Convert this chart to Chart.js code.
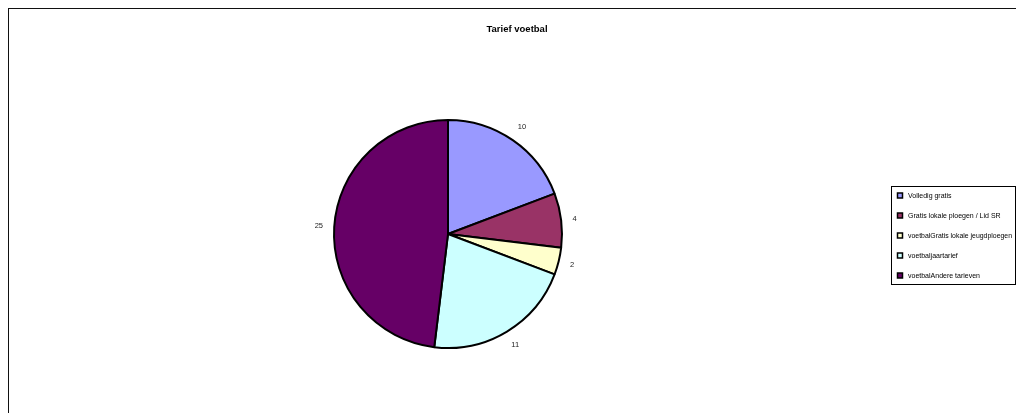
<!DOCTYPE html>
<html>
<head>
<meta charset="utf-8">
<title>Tarief voetbal</title>
<script src="https://cdn.jsdelivr.net/npm/chart.js@4/dist/chart.umd.min.js"></script>
<style>
  body { margin: 0; background: #fff; }
  canvas { display: block; }
</style>
</head>
<body>
<canvas id="tarief-chart" width="1016" height="413"></canvas>
<script>
//---------------------DATA--------------------------------------//
const categories = [
  'Volledig gratis',
  'Gratis lokale ploegen / Lid SR',
  'voetbalGratis lokale jeugdploegen',
  'voetbaljaartarief',
  'voetbalAndere tarieven'
];
const values = [10, 4, 2, 11, 25];
const sliceColors = ['#9999FF', '#993366', '#FFFFCC', '#CCFFFF', '#660066'];
const chartTitle = 'Tarief voetbal';

const fontFamily = '"Liberation Sans", Arial, sans-serif';

//---------------------PLUGINS--------------------------------------//
// white page + the outer chart frame (runs off the right/bottom edge)
const framePlugin = {
  id: 'frame',
  beforeDraw(chart) {
    const ctx = chart.ctx;
    ctx.save();
    ctx.fillStyle = '#fff';
    ctx.fillRect(0, 0, chart.width, chart.height);
    ctx.strokeStyle = '#111';
    ctx.lineWidth = 1;
    ctx.strokeRect(8.5, 8.5, chart.width + 20, chart.height + 20);
    ctx.restore();
  }
};

// value labels just outside each slice
const valueLabelPlugin = {
  id: 'valueLabels',
  afterDatasetsDraw(chart) {
    const ctx = chart.ctx;
    const meta = chart.getDatasetMeta(0);
    ctx.save();
    ctx.font = '7.5px ' + fontFamily;
    ctx.fillStyle = '#222';
    ctx.textAlign = 'center';
    ctx.textBaseline = 'middle';
    meta.data.forEach((arc, i) => {
      const p = arc.getProps(['x', 'y', 'startAngle', 'endAngle', 'outerRadius'], true);
      const mid = (p.startAngle + p.endAngle) / 2;
      const text = String(chart.data.datasets[0].data[i]);
      const w = ctx.measureText(text).width;
      const h = 7;
      const dist = p.outerRadius + 11 + (w / 2) * Math.abs(Math.cos(mid)) + (h / 2) * Math.abs(Math.sin(mid));
      ctx.fillText(text, p.x + Math.cos(mid) * dist, p.y + Math.sin(mid) * dist);
    });
    ctx.restore();
  }
};

// title and boxed legend on the right
const titleLegendPlugin = {
  id: 'titleLegend',
  afterDraw(chart) {
    const ctx = chart.ctx;
    ctx.save();

    ctx.font = 'bold 9.5px ' + fontFamily;
    ctx.fillStyle = '#000';
    ctx.textAlign = 'center';
    ctx.textBaseline = 'alphabetic';
    ctx.fillText(chartTitle, 517, 32);

    // legend box
    ctx.strokeStyle = '#000';
    ctx.lineWidth = 1;
    ctx.strokeRect(891.5, 186.5, 124, 98);

    ctx.font = '7px ' + fontFamily;
    ctx.textAlign = 'left';
    ctx.textBaseline = 'middle';
    categories.forEach((label, i) => {
      const y = 196 + i * 20;
      ctx.fillStyle = sliceColors[i];
      ctx.fillRect(897.5, y - 3, 5, 5);
      ctx.strokeStyle = '#000';
      ctx.lineWidth = 1.5;
      ctx.strokeRect(897.5, y - 3, 5, 5);
      ctx.fillStyle = '#000';
      ctx.fillText(label, 908, y, 104);
    });
    ctx.restore();
  }
};

//---------------------CHART--------------------------------------//
const tariefCanvas = document.getElementById('tarief-chart');
const tariefChart = new Chart(tariefCanvas, {
  type: 'pie',
  data: {
    labels: categories,
    datasets: [{
      data: values,
      backgroundColor: sliceColors,
      borderColor: '#000',
      borderWidth: 2
    }]
  },
  options: {
    responsive: false,
    animation: false,
    devicePixelRatio: 1,
    layout: {
      padding: { left: 333, right: 453, top: 119, bottom: 64 }
    },
    plugins: {
      legend: { display: false },
      title: { display: false },
      tooltip: { enabled: false }
    }
  },
  plugins: [framePlugin, valueLabelPlugin, titleLegendPlugin]
});
</script>
</body>
</html>
